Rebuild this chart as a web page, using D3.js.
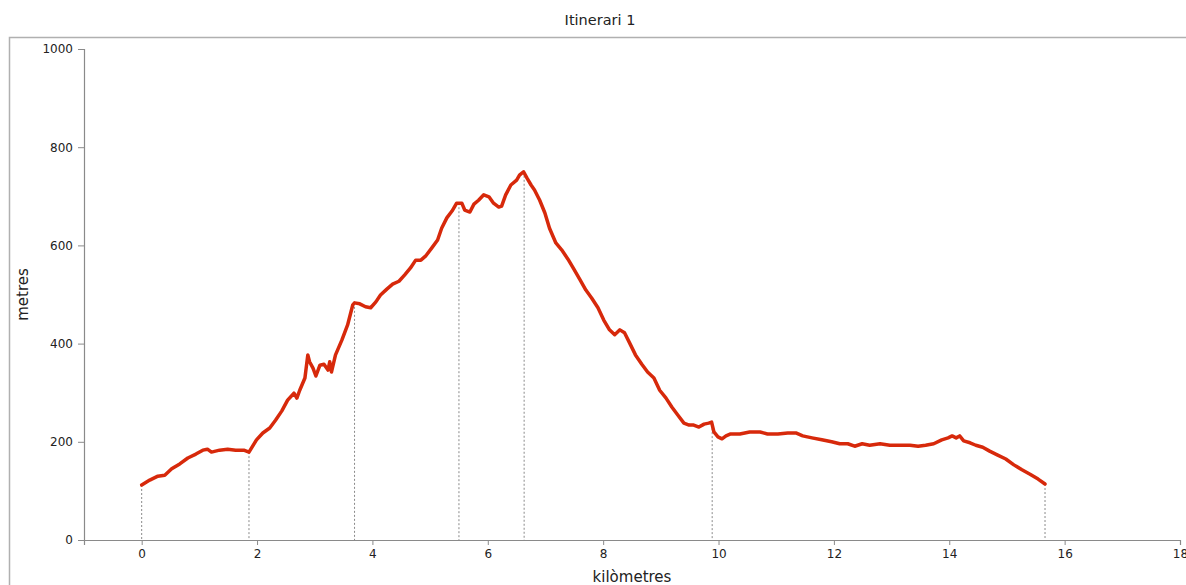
<!DOCTYPE html>
<html>
<head>
<meta charset="utf-8">
<script src="https://cdn.jsdelivr.net/npm/d3@7"></script>
<style>
  body { margin: 0; background: #fff; }
  text { font-family: "DejaVu Sans", sans-serif; fill: #222; }
</style>
</head>
<body>
<div id="chart"></div>
<script>
// profile: distance (km) and elevation (m)
var km = [0, 0.14, 0.28, 0.40, 0.52, 0.66, 0.80, 0.94, 1.06, 1.14, 1.21, 1.35, 1.49, 1.63, 1.77, 1.86,
  1.99, 2.10, 2.22, 2.32, 2.43, 2.53, 2.64, 2.69, 2.74, 2.83, 2.88, 2.91, 2.97, 3.02, 3.09, 3.16, 3.23,
  3.26, 3.29, 3.36, 3.47, 3.57, 3.66, 3.69, 3.78, 3.88, 3.97, 4.06, 4.14, 4.25, 4.35, 4.46, 4.56, 4.66,
  4.75, 4.84, 4.92, 5.03, 5.13, 5.20, 5.29, 5.38, 5.46, 5.55, 5.60, 5.69, 5.76, 5.84, 5.93, 6.02, 6.10,
  6.19, 6.24, 6.31, 6.40, 6.50, 6.55, 6.62, 6.68, 6.75, 6.81, 6.90, 6.99, 7.07, 7.18, 7.28, 7.39, 7.49,
  7.60, 7.70, 7.80, 7.91, 8.01, 8.11, 8.20, 8.29, 8.37, 8.46, 8.56, 8.67, 8.77, 8.88, 8.98, 9.09, 9.19,
  9.29, 9.40, 9.49, 9.57, 9.66, 9.75, 9.83, 9.88, 9.92, 9.99, 10.06, 10.13, 10.21, 10.37, 10.54, 10.72,
  10.85, 11.03, 11.20, 11.34, 11.46, 11.62, 11.79, 11.96, 12.10, 12.24, 12.36, 12.49, 12.62, 12.80,
  12.97, 13.14, 13.32, 13.46, 13.59, 13.73, 13.87, 13.98, 14.05, 14.12, 14.18, 14.25, 14.36, 14.46,
  14.58, 14.70, 14.84, 14.98, 15.12, 15.26, 15.40, 15.54, 15.66];
var elev = [112, 122, 130, 132, 145, 155, 167, 175, 183, 185, 179, 183, 185, 183, 183, 179,
  204, 218, 228, 244, 263, 285, 299, 289, 305, 330, 377, 363, 350, 334, 356, 358, 346,
  363, 342, 377, 407, 438, 479, 483, 481, 475, 473, 485, 499, 511, 521, 527, 540, 554,
  570, 570, 578, 595, 611, 635, 656, 670, 686, 686, 672, 668, 684, 692, 703, 699, 686,
  678, 680, 703, 723, 733, 743, 750, 737, 723, 713, 692, 666, 635, 605, 591, 572, 552,
  530, 509, 493, 473, 448, 428, 418, 428, 422, 401, 377, 358, 342, 330, 305, 289, 271,
  255, 238, 234, 234, 230, 236, 238, 240, 220, 210, 206, 212, 216, 216, 220, 220,
  216, 216, 218, 218, 212, 208, 204, 200, 196, 196, 191, 196, 193, 196,
  193, 193, 193, 191, 193, 196, 204, 208, 212, 208, 212, 202, 198, 193,
  189, 181, 173, 165, 153, 143, 134, 124, 114];

// waypoints (dashed drop lines)
var wpKm = [0, 1.86, 3.69, 5.50, 6.63, 9.89, 15.66];
var wpElev = [112, 179, 483, 686, 750, 236, 114];

var xTicks = [0, 2, 4, 6, 8, 10, 12, 14, 16, 18];
var yTicks = [0, 200, 400, 600, 800, 1000];

var W = 1186, H = 585;
var margin = { top: 49, left: 84, right: 6, bottom: 45 };
var width = W - margin.left - margin.right,
    height = H - margin.top - margin.bottom;

var root = d3.select("#chart").append("svg")
  .attr("width", W)
  .attr("height", H);

// outer frame
root.append("rect")
  .attr("x", 9.5).attr("y", 37.5)
  .attr("width", W).attr("height", H)
  .attr("fill", "none")
  .attr("stroke", "#b0b0b0")
  .attr("stroke-width", 1.5);

root.append("text")
  .attr("x", 600).attr("y", 25)
  .attr("text-anchor", "middle")
  .style("font-size", "14.5px")
  .text("Itinerari 1");

var svg = root.append("g")
  .attr("transform", "translate(" + margin.left + "," + margin.top + ")");

var x = d3.scaleLinear().domain([-1, 18]).range([0, width]);
var y = d3.scaleLinear().domain([0, 1000]).range([height, 0]);

// axes
var xAxis = svg.append("g")
  .attr("transform", "translate(0," + height + ")")
  .call(d3.axisBottom(x).tickValues(xTicks).tickFormat(d3.format("d")).tickSize(5).tickPadding(4));
var yAxis = svg.append("g")
  .call(d3.axisLeft(y).tickValues(yTicks).tickFormat(d3.format("d")).tickSize(6).tickPadding(5));

[xAxis, yAxis].forEach(function (a) {
  a.select(".domain").attr("stroke", "#8a8a8a").attr("stroke-width", 1.2);
  a.selectAll(".tick line").attr("stroke", "#8a8a8a");
  a.selectAll(".tick text")
    .style("font-family", "DejaVu Sans, sans-serif")
    .style("font-size", "12px")
    .attr("fill", "#222");
});

// waypoint drop lines
svg.selectAll(".wp")
  .data(wpKm)
  .enter().append("line")
  .attr("class", "wp")
  .attr("x1", function (d) { return x(d); })
  .attr("x2", function (d) { return x(d); })
  .attr("y1", function (d, i) { return y(wpElev[i]); })
  .attr("y2", height)
  .attr("stroke", "#8a8a8a")
  .attr("stroke-width", 1)
  .attr("stroke-dasharray", "2,2");

// profile line
var line = d3.line()
  .x(function (d) { return x(d); })
  .y(function (d, i) { return y(elev[i]); });

svg.append("path")
  .datum(km)
  .attr("d", line)
  .attr("fill", "none")
  .attr("stroke", "#d7290b")
  .attr("stroke-width", 3.5)
  .attr("stroke-linejoin", "round")
  .attr("stroke-linecap", "round");

// axis labels
svg.append("text")
  .attr("transform", "translate(" + (28 - margin.left) + "," + (height / 2) + ") rotate(-90)")
  .attr("text-anchor", "middle")
  .style("font-size", "15px")
  .text("metres");

svg.append("text")
  .attr("x", width / 2)
  .attr("y", height + 42)
  .attr("text-anchor", "middle")
  .style("font-size", "15px")
  .text("kilòmetres");
</script>
</body>
</html>
